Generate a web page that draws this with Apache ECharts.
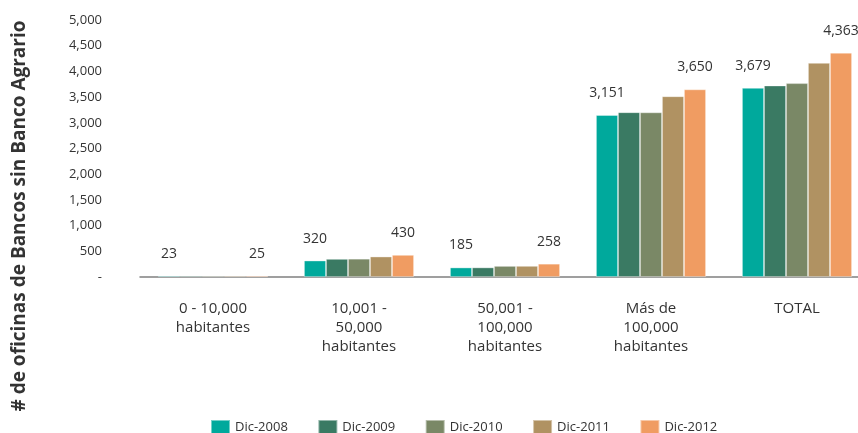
<!DOCTYPE html>
<html>
<head>
<meta charset="utf-8">
<script src="https://cdn.jsdelivr.net/npm/echarts@6/dist/echarts.min.js"></script>
<style>
  html, body { margin: 0; padding: 0; background: #fff; }
  #chart { width: 858px; height: 433px; }
</style>
</head>
<body>
<div id="chart"></div>
<script>
// categories and series values
var categories = ['0 - 10,000\nhabitantes', '10,001 -\n50,000\nhabitantes', '50,001 -\n100,000\nhabitantes', 'Más de\n100,000\nhabitantes', 'TOTAL'];
var years = ['Dic-2008', 'Dic-2009', 'Dic-2010', 'Dic-2011', 'Dic-2012'];
var dic2008 = [23, 320, 185, 3151, 3679];
var dic2009 = [24, 352, 186, 3205, 3725];
var dic2010 = [24, 355, 215, 3203, 3770];
var dic2011 = [24, 398, 216, 3516, 4165];
var dic2012 = [25, 430, 258, 3650, 4363];
var colors = ['#00a99c', '#3a7a63', '#7a8866', '#b09262', '#f09c62'];

var fontFamily = '"Open Sans", "Noto Sans", sans-serif';
var chart = echarts.init(document.getElementById('chart'));

function fmt(v) {
    return v === 0 ? '-' : v.toLocaleString('en-US');
}

// only first and last year carry value labels
function makeSeries(name, data, idx, showLabel) {
    return {
        name: name,
        type: 'bar',
        data: data,
        barWidth: 22,
        barGap: '0%',
        itemStyle: {
            color: colors[idx],
            borderColor: 'rgba(255,255,255,0.45)',
            borderWidth: 0.8
        },
        label: {
            show: showLabel,
            position: 'top',
            distance: 15,
            color: '#333',
            fontFamily: fontFamily,
            fontSize: 14,
            formatter: function (p) { return fmt(p.value); }
        }
    };
}

var option = {
    animation: false,
    grid: {
        left: 140,
        right: -12,
        top: 20,
        bottom: 156,
        containLabel: false,
        outerBoundsMode: 'none'
    },
    legend: {
        data: years,
        left: 210,
        top: 419,
        padding: 0,
        itemWidth: 19,
        itemHeight: 14,
        itemGap: 29.5,
        icon: 'rect',
        textStyle: {
            color: '#333',
            fontFamily: fontFamily,
            fontSize: 13
        }
    },
    xAxis: {
        type: 'category',
        data: categories,
        axisLine: { lineStyle: { color: '#808080', width: 1.5 } },
        axisTick: { show: false },
        axisLabel: {
            margin: 22,
            color: '#333',
            fontFamily: fontFamily,
            fontSize: 15,
            lineHeight: 19,
            interval: 0
        }
    },
    yAxis: {
        type: 'value',
        min: 0,
        max: 5000,
        interval: 500,
        axisLine: { show: false },
        axisTick: { show: false },
        splitLine: { show: false },
        axisLabel: {
            margin: 38,
            padding: [6, 0, 0, 0],
            color: '#333',
            fontFamily: fontFamily,
            fontSize: 13,
            formatter: fmt
        }
    },
    graphic: [{
        type: 'text',
        x: 20,
        y: 216,
        rotation: Math.PI / 2,
        style: {
            text: '# de oficinas de Bancos sin Banco Agrario',
            fill: '#333',
            font: 'bold 19px ' + fontFamily,
            align: 'center',
            verticalAlign: 'middle'
        }
    }],
    series: [
        makeSeries(years[0], dic2008, 0, true),
        makeSeries(years[1], dic2009, 1, false),
        makeSeries(years[2], dic2010, 2, false),
        makeSeries(years[3], dic2011, 3, false),
        makeSeries(years[4], dic2012, 4, true)
    ]
};

chart.setOption(option);
</script>
</body>
</html>
